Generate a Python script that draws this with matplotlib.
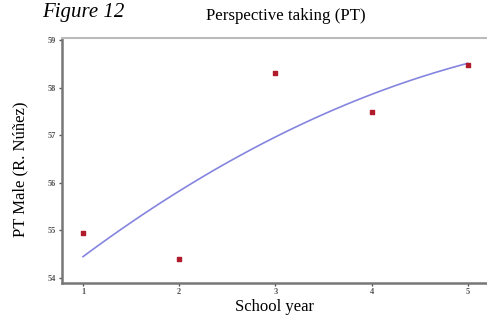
import numpy as np
import matplotlib
matplotlib.use("Agg")
import matplotlib.pyplot as plt

# Data
school_year = [1, 2, 3, 4, 5]
pt_male = [54.94, 54.40, 58.31, 57.49, 58.47]
y_ticks = [54, 55, 56, 57, 58, 59]

# quadratic fit line
coef = np.polyfit(school_year, pt_male, 2)
xs = np.linspace(1, 5, 100)
ys = np.polyval(coef, xs)

plt.rcParams['font.family'] = ['Liberation Serif', 'DejaVu Serif']

fig = plt.figure(figsize=(4.87, 3.2), dpi=100)
ax = fig.add_axes([0.127, 0.116, 0.873, 0.765])

ax.plot(xs, ys, color="#8585e0", linewidth=1.2)
ax.scatter(school_year, pt_male, marker="s", s=8, color="#b01c2c", zorder=3)

ax.set_xlim(0.78, 5.2)
ax.set_ylim(53.9, 59.04)
ax.set_xticks(school_year)
ax.set_yticks(y_ticks)
ax.tick_params(labelsize=6, length=2, width=1, colors="#555555", pad=2)
for lab in ax.get_xticklabels() + ax.get_yticklabels():
    lab.set_fontweight("bold")

for s in ["left", "bottom"]:
    ax.spines[s].set_color("#777777")
    ax.spines[s].set_linewidth(1.8)
ax.spines["top"].set_color("#bbbbbb")
ax.spines["top"].set_linewidth(1.5)
ax.spines["right"].set_visible(False)

ax.set_xlabel("School year", fontsize=12, labelpad=2)
fig.text(0.042, 0.47, "PT Male (R. Núñez)", fontsize=12, rotation=90,
         ha="center", va="center")

fig.text(0.586, 0.95, "Perspective taking (PT)", fontsize=12.2, ha="center", va="center")
fig.text(0.086, 0.962, "Figure 12", fontsize=15, style="italic", ha="left", va="center")

fig.savefig("out.png", dpi=100)
